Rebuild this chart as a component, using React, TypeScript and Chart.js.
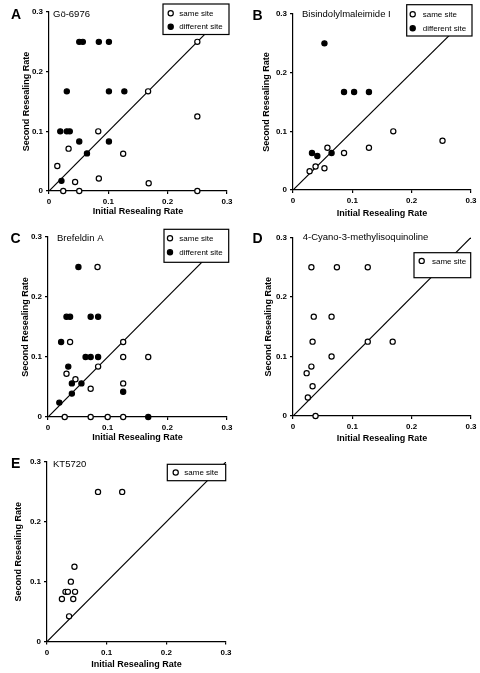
import React, { useEffect, useRef } from "react";
import { Chart, registerables } from "chart.js";

Chart.register(...registerables);

// ---------- data ----------
const tickValues = [0, 0.1, 0.2, 0.3];
const identityLine = [0, 0.3];
const xAxisLabel = "Initial Resealing Rate";
const yAxisLabel = "Second Resealing Rate";
const sameLabel = "same site";
const diffLabel = "different site";

const panelLetters = ["A", "B", "C", "D", "E"];
const panelTitles = [
  "Gö-6976",
  "Bisindolylmaleimide I",
  "Brefeldin A",
  "4-Cyano-3-methylisoquinoline",
  "KT5720",
];

// A: Gö-6976
const aSameX = [0.25, 0.167, 0.25, 0.083, 0.033, 0.125, 0.014, 0.044, 0.084, 0.168, 0.024, 0.051, 0.25];
const aSameY = [0.25, 0.167, 0.125, 0.1, 0.071, 0.0625, 0.042, 0.015, 0.021, 0.013, 0, 0, 0];
const aDiffX = [0.051, 0.057, 0.084, 0.101, 0.03, 0.101, 0.127, 0.019, 0.03, 0.035, 0.051, 0.101, 0.064, 0.021];
const aDiffY = [0.25, 0.25, 0.25, 0.25, 0.167, 0.167, 0.167, 0.1, 0.1, 0.1, 0.083, 0.083, 0.063, 0.017];

// B: Bisindolylmaleimide I
const bSameX = [0.028, 0.038, 0.053, 0.058, 0.086, 0.128, 0.169, 0.252];
const bSameY = [0.032, 0.04, 0.037, 0.072, 0.063, 0.072, 0.1, 0.084];
const bDiffX = [0.053, 0.086, 0.103, 0.128, 0.032, 0.041, 0.065];
const bDiffY = [0.25, 0.167, 0.167, 0.167, 0.063, 0.058, 0.063];

// C: Brefeldin A
const cSameX = [0.083, 0.037, 0.126, 0.126, 0.168, 0.084, 0.031, 0.046, 0.0715, 0.126, 0.028, 0.0715, 0.1, 0.126];
const cSameY = [0.25, 0.125, 0.125, 0.1, 0.1, 0.084, 0.072, 0.063, 0.047, 0.056, 0, 0, 0, 0];
const cDiffX = [0.051, 0.031, 0.037, 0.0715, 0.084, 0.022, 0.063, 0.0715, 0.084, 0.034, 0.04, 0.056, 0.04, 0.019, 0.126, 0.168];
const cDiffY = [0.25, 0.167, 0.167, 0.167, 0.167, 0.125, 0.1, 0.1, 0.1, 0.084, 0.056, 0.056, 0.039, 0.024, 0.042, 0];

// D: 4-Cyano-3-methylisoquinoline
const dSameX = [0.031, 0.074, 0.126, 0.035, 0.065, 0.033, 0.126, 0.168, 0.065, 0.031, 0.023, 0.033, 0.025, 0.038];
const dSameY = [0.25, 0.25, 0.25, 0.167, 0.167, 0.125, 0.125, 0.125, 0.1, 0.083, 0.072, 0.05, 0.031, 0];

// E: KT5720
const eSameX = [0.0855, 0.126, 0.046, 0.04, 0.031, 0.035, 0.047, 0.025, 0.044, 0.037];
const eSameY = [0.25, 0.25, 0.125, 0.1, 0.083, 0.083, 0.083, 0.071, 0.071, 0.042];

// ---------- styling / layout ----------
const FONT = "'Liberation Sans', Arial, Helvetica, sans-serif";

type Geo = {
  left: number; top: number; w: number; h: number;
  area: { l: number; r: number; t: number; b: number };
  yTitleX: number; xTitleY: number;
  letter: { x: number; y: number };
  title: { x: number; y: number };
  legend: { x: number; y: number; w: number; h: number; mdx: number; tdx: number; rows: number[] };
};

const geos: Geo[] = [
  {
    left: 0, top: 0, w: 240, h: 220,
    area: { l: 49, r: 227, t: 12, b: 191 },
    yTitleX: 27, xTitleY: 211.7,
    letter: { x: 11, y: 15 }, title: { x: 53, y: 13.5 },
    legend: { x: 163, y: 4, w: 66, h: 30.5, mdx: 7.7, tdx: 16.3, rows: [9.3, 22.7] },
  },
  {
    left: 240, top: 0, w: 240, h: 220,
    area: { l: 53, r: 231, t: 14, b: 190 },
    yTitleX: 26.7, xTitleY: 213.3,
    letter: { x: 12.5, y: 16 }, title: { x: 62, y: 14.3 },
    legend: { x: 166.7, y: 4.7, w: 65.3, h: 31.3, mdx: 6, tdx: 16, rows: [9.6, 23.6] },
  },
  {
    left: 0, top: 218, w: 240, h: 232,
    area: { l: 48, r: 227, t: 19, b: 199 },
    yTitleX: 26, xTitleY: 219.7,
    letter: { x: 10.5, y: 20.3 }, title: { x: 57, y: 20.3 },
    legend: { x: 164, y: 11.3, w: 64.7, h: 33, mdx: 6, tdx: 15.3, rows: [9, 23] },
  },
  {
    left: 240, top: 218, w: 240, h: 232,
    area: { l: 53, r: 231, t: 19.5, b: 198 },
    yTitleX: 28.3, xTitleY: 221,
    letter: { x: 12.5, y: 20.5 }, title: { x: 62.7, y: 19 },
    legend: { x: 174, y: 34.7, w: 56.7, h: 25, mdx: 7.7, tdx: 18, rows: [8.2] },
  },
  {
    left: 0, top: 450, w: 240, h: 223,
    area: { l: 47, r: 226, t: 12, b: 191.5 },
    yTitleX: 18.3, xTitleY: 215,
    letter: { x: 11, y: 14 }, title: { x: 53, y: 14 },
    legend: { x: 167.3, y: 14.3, w: 58.4, h: 16.4, mdx: 8.4, tdx: 17, rows: [8.2] },
  },
];

const zip = (xs: number[], ys: number[]) => xs.map((x, i) => ({ x, y: ys[i] }));

const panelData = [
  { same: zip(aSameX, aSameY), diff: zip(aDiffX, aDiffY) },
  { same: zip(bSameX, bSameY), diff: zip(bDiffX, bDiffY) },
  { same: zip(cSameX, cSameY), diff: zip(cDiffX, cDiffY) },
  { same: zip(dSameX, dSameY), diff: null },
  { same: zip(eSameX, eSameY), diff: null },
];

const POINT_R = 2.6;
const POINT_BW = 1.2;

function drawMarker(ctx: CanvasRenderingContext2D, x: number, y: number, filled: boolean) {
  ctx.beginPath();
  ctx.arc(x, y, POINT_R, 0, Math.PI * 2);
  ctx.fillStyle = filled ? "#000" : "#fff";
  ctx.fill();
  ctx.lineWidth = POINT_BW;
  ctx.strokeStyle = "#000";
  ctx.stroke();
}

function Panel({ idx }: { idx: number }) {
  const ref = useRef<HTMLCanvasElement>(null);
  const g = geos[idx];

  useEffect(() => {
    if (!ref.current) return;
    const d = panelData[idx];
    const datasets: any[] = [
      {
        label: "identity",
        data: identityLine.map((v) => ({ x: v, y: v })),
        showLine: true,
        pointRadius: 0,
        borderColor: "#000",
        borderWidth: 1.2,
        order: 5,
      },
      {
        label: sameLabel,
        data: d.same,
        pointRadius: POINT_R,
        pointBorderWidth: POINT_BW,
        pointBackgroundColor: "#fff",
        pointBorderColor: "#000",
        borderColor: "#000",
        backgroundColor: "#fff",
        clip: false,
        order: 2,
      },
    ];
    const items: { label: string; filled: boolean }[] = [{ label: sameLabel, filled: false }];
    if (d.diff) {
      datasets.push({
        label: diffLabel,
        data: d.diff,
        pointRadius: POINT_R,
        pointBorderWidth: POINT_BW,
        pointBackgroundColor: "#000",
        pointBorderColor: "#000",
        borderColor: "#000",
        backgroundColor: "#000",
        clip: false,
        order: 1,
      });
      items.push({ label: diffLabel, filled: true });
    }

    const decor = {
      id: "decor",
      afterDatasetsDraw(chart: any) {
        const ctx: CanvasRenderingContext2D = chart.ctx;
        const L = g.legend;
        ctx.save();
        ctx.fillStyle = "#fff";
        ctx.fillRect(L.x, L.y, L.w, L.h);
        ctx.lineWidth = 1.2;
        ctx.strokeStyle = "#000";
        ctx.strokeRect(L.x, L.y, L.w, L.h);
        ctx.font = `8px ${FONT}`;
        ctx.textBaseline = "middle";
        ctx.textAlign = "left";
        items.forEach((it, i) => {
          const yy = L.y + L.rows[i];
          drawMarker(ctx, L.x + L.mdx, yy, it.filled);
          ctx.fillStyle = "#000";
          ctx.fillText(it.label, L.x + L.tdx, yy + 0.5);
        });
        ctx.restore();
      },
      afterDraw(chart: any) {
        const ctx: CanvasRenderingContext2D = chart.ctx;
        ctx.save();
        ctx.fillStyle = "#000";
        ctx.textBaseline = "middle";
        ctx.textAlign = "left";
        ctx.font = `bold 14px ${FONT}`;
        ctx.fillText(panelLetters[idx], g.letter.x, g.letter.y + 0.5);
        ctx.font = `9.5px ${FONT}`;
        ctx.fillText(panelTitles[idx], g.title.x, g.title.y + 0.5);
        ctx.restore();
      },
    };

    const tickFont = { family: FONT, size: 8, weight: "bold" as const };
    const titleFont = { family: FONT, size: 9, weight: "bold" as const, lineHeight: 1.2 };
    const half = (9 * 1.2) / 2;
    const fmt = (v: any) => (Number(v) === 0 ? "0" : Number(v).toFixed(1));
    const common = {
      type: "linear" as const,
      min: tickValues[0],
      max: tickValues[tickValues.length - 1],
      afterBuildTicks: (scale: any) => {
        scale.ticks = tickValues.map((v) => ({ value: v }));
      },
      grid: {
        display: true,
        drawOnChartArea: false,
        drawTicks: true,
        tickLength: 3,
        color: "#000",
        lineWidth: 1.2,
      },
      border: { display: true, color: "#000", width: 1.2 },
    };

    const chart = new Chart(ref.current, {
      type: "scatter",
      data: { datasets },
      options: {
        responsive: false,
        animation: false,
        events: [],
        layout: {
          padding: { left: 0, top: g.area.t, right: g.w - g.area.r, bottom: 0 },
        },
        plugins: {
          legend: { display: false },
          tooltip: { enabled: false },
          title: { display: false },
        },
        scales: {
          x: {
            ...common,
            position: "bottom",
            ticks: {
              font: tickFont,
              color: "#000",
              padding: 3,
              maxRotation: 0,
              autoSkip: false,
              callback: fmt,
            },
            title: {
              display: true,
              text: xAxisLabel,
              color: "#000",
              font: titleFont,
              padding: { top: 0, bottom: Math.max(0, g.h - g.xTitleY - half) },
            },
            afterFit: (scale: any) => {
              scale.height = g.h - g.area.b;
            },
          },
          y: {
            ...common,
            position: "left",
            ticks: {
              font: tickFont,
              color: "#000",
              padding: 3,
              autoSkip: false,
              callback: fmt,
            },
            title: {
              display: true,
              text: yAxisLabel,
              color: "#000",
              font: titleFont,
              padding: { top: Math.max(0, g.yTitleX - half), bottom: 0 },
            },
            afterFit: (scale: any) => {
              scale.width = g.area.l;
            },
          },
        },
      } as any,
      plugins: [decor],
    });
    return () => chart.destroy();
  }, [idx]);

  return (
    <canvas
      ref={ref}
      width={g.w}
      height={g.h}
      style={{ position: "absolute", left: g.left, top: g.top, width: g.w, height: g.h }}
    />
  );
}

export default function App() {
  return (
    <div
      style={{
        position: "fixed",
        left: 0,
        top: 0,
        width: 480,
        height: 673,
        background: "#fff",
        overflow: "hidden",
      }}
    >
      {panelLetters.map((_, i) => (
        <Panel key={i} idx={i} />
      ))}
    </div>
  );
}
